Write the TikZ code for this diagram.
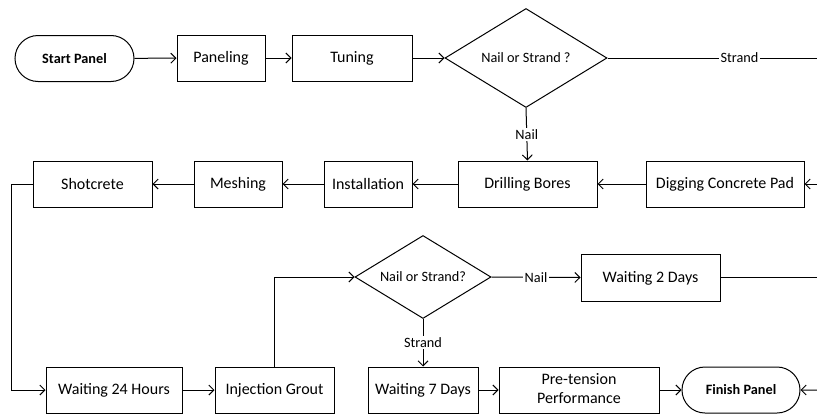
\documentclass[tikz,border=0pt]{standalone}
\usepackage{fontspec}
\setmainfont{Carlito}
\usetikzlibrary{shapes.geometric,shapes.misc,arrows.meta}
\newcommand{\bigstrut}{\vrule height 9.5pt depth 2pt width 0pt}
\newcommand{\smallstrut}{\vrule height 8.5pt depth 1.7pt width 0pt}

\begin{document}
\begin{tikzpicture}[x=0.75pt,y=-0.75pt,line width=0.75pt,
	every node/.style={inner sep=0pt},
	procbox/.style={draw,rectangle,minimum height=46*0.75pt,align=center,font=\fontsize{12}{14}\selectfont,
		execute at begin node=\bigstrut,execute at end node=\bigstrut},
	decide/.style={draw,diamond,font=\fontsize{10.7}{12}\selectfont,execute at begin node=\smallstrut},
	terminal/.style={draw,rounded rectangle,minimum height=46*0.75pt,font=\fontsize{10.7}{12}\selectfont\bfseries,
		execute at begin node=\smallstrut},
	flowlabel/.style={fill=white,inner sep=1pt,font=\fontsize{10.7}{12}\selectfont},
	>={Straight Barb[length=3.75pt,width=7.5pt]}]
	\useasboundingbox (0,0) rectangle (817,414);

	\node[terminal,minimum width=119*0.75pt] (start) at (74.5,58.5) {Start Panel};
	\node[procbox,minimum width=88*0.75pt] (panel) at (221,58) {Paneling};
	\node[procbox,minimum width=120*0.75pt] (tune) at (352,58) {Tuning};
	\node[decide,minimum width=162*0.75pt,minimum height=99*0.75pt,shape aspect=1.64] (nos1) at (526,58) {Nail or Strand ?};
	\coordinate (strandout) at (817,58);

	\node[procbox,minimum width=158*0.75pt] (dig) at (725,184) {Digging Concrete Pad};
	\node[procbox,minimum width=139*0.75pt] (drill) at (527.5,184) {Drilling Bores};
	\node[procbox,minimum width=88*0.75pt] (inst) at (368,184) {Installation};
	\node[procbox,minimum width=88*0.75pt] (mesh) at (238,184) {Meshing};
	\node[procbox,minimum width=119*0.75pt] (shot) at (92.5,184) {Shotcrete};
	\coordinate (strandin) at (817,184);

	\node[decide,minimum width=136*0.75pt,minimum height=83*0.75pt,shape aspect=1.64] (nos2) at (423,277) {Nail or Strand?};
	\node[procbox,minimum width=139*0.75pt,minimum height=47*0.75pt] (wait2) at (650.5,277.5) {Waiting 2 Days};
	\coordinate (nailout) at (817,277.5);

	\node[procbox,minimum width=136*0.75pt] (wait24) at (114,390) {Waiting 24 Hours};
	\node[procbox,minimum width=119*0.75pt] (grout) at (274.5,390) {Injection Grout};
	\node[procbox,minimum width=110*0.75pt] (wait7) at (423,390) {Waiting 7 Days};
	\node[procbox,minimum width=160*0.75pt] (pre) at (579,390) {Pre-tension\\Performance};
	\node[terminal,minimum width=118*0.75pt] (finish) at (741,390) {Finish Panel};
	\coordinate (nailin) at (817,390);

	\draw[->] (start) -- (panel);
	\draw[->] (panel) -- (tune);
	\draw[->] (tune) -- (nos1.west);
	\draw (nos1.east) -- node[flowlabel,pos=0.63]{Strand} (strandout);
	\draw[->] (nos1.south) -- node[flowlabel]{Nail} (drill.north);
	\draw[->] (strandin) -- (dig);
	\draw[->] (dig) -- (drill);
	\draw[->] (drill) -- (inst);
	\draw[->] (inst) -- (mesh);
	\draw[->] (mesh) -- (shot);
	\draw[->] (shot.west) -- ++(-21,0) |- (wait24.west);
	\draw[->] (wait24) -- (grout);
	\draw[->] (grout.north) |- (nos2.west);
	\draw[->] (nos2.east) -- node[flowlabel]{Nail} (wait2.west);
	\draw (wait2.east) -- (nailout);
	\draw[->] (nos2.south) -- node[flowlabel]{Strand} (wait7.north);
	\draw[->] (wait7) -- (pre);
	\draw[->] (pre) -- (finish);
	\draw[->] (nailin) -- (finish);
\end{tikzpicture}
\end{document}
